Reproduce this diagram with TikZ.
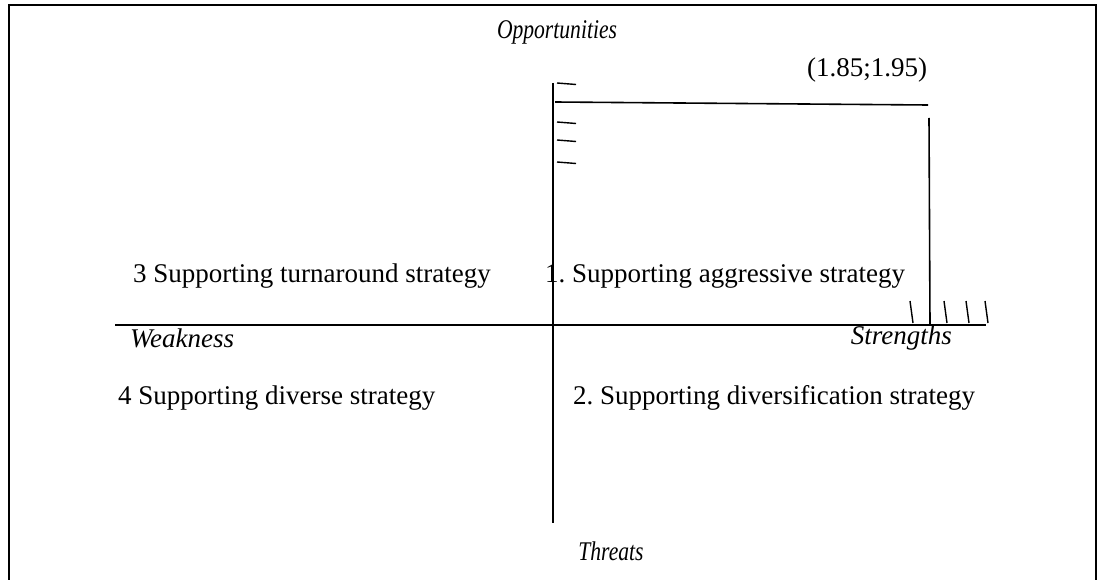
\documentclass[tikz,border=0pt]{standalone}
\usepackage{fontspec}
\setmainfont{Liberation Serif}
\usetikzlibrary{positioning}
\frenchspacing

\begin{document}
\begin{tikzpicture}[
  x=1pt, y=-1pt,
  every node/.style={font=\fontsize{27}{31}\selectfont, inner sep=0pt},
  axislabel/.style={font=\fontsize{27}{31}\selectfont\itshape},
  narrowlabel/.style={axislabel, xscale=0.8},
  quadlabel/.style={anchor=west},
  axisline/.style={line width=1.6pt},
  tick/.style={line width=1.4pt}
]
  \useasboundingbox (0,0) rectangle (1103,580);
  % frame, open at the bottom
  \draw[line width=1.8pt] (9,580) -- (9,5) -- (1096,5) -- (1096,580);

  % axes
  \coordinate (otop) at (553,83);
  \coordinate (tbot) at (553,523);
  \coordinate (wleft) at (115,325);
  \coordinate (sright) at (986,325);
  \draw[axisline] (otop) -- (tbot);
  \draw[axisline] (wleft) -- (sright);

  % the point (1.85;1.95)
  \coordinate (hstart) at (555,102);
  \coordinate (hend) at (928,105);
  \coordinate (vtop) at (929,118);
  \coordinate (vbot) at (930,325);
  \draw[axisline] (hstart) -- (hend);
  \draw[axisline] (vtop) -- (vbot);

  % scale marks
  \foreach \yy in {83,122,140,162}
    \draw[tick] (557,\yy) -- (576,\yy+1.5);
  \foreach \xx in {910,944,966,985}
    \draw[tick] (\xx,301) -- (\xx+3,323);

  % labels
  \node[narrowlabel] (opp) at (557,32) {Opportunities};
  \node[narrowlabel] (thr) at (611,551) {Threats};
  \node[axislabel, anchor=west] (weak) at (130,338) {Weakness};
  \node[axislabel, anchor=east] (str) at (952,338) {Strengths};
  \node (pt) at (867,70) {(1.85;1.95)};

  \node[quadlabel] (q3) at (133,276) {3 Supporting turnaround strategy};
  \node[quadlabel] (q1) at (545,276) {1. Supporting aggressive strategy};
  \node[quadlabel] (q4) at (118,398) {4 Supporting diverse strategy};
  \node[quadlabel] (q2) at (573,398) {2. Supporting diversification strategy};
\end{tikzpicture}
\end{document}
